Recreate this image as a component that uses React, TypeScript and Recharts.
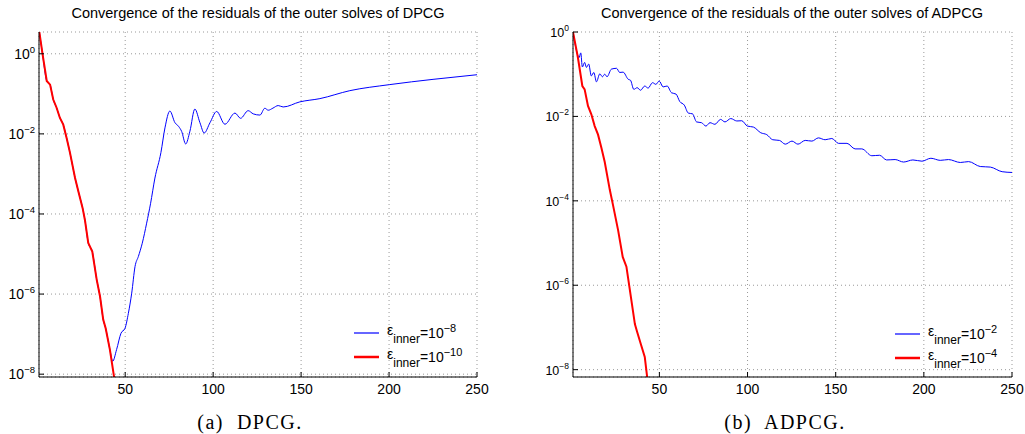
import React from "react"
import { LineChart, Line, XAxis, YAxis, CartesianGrid, Legend } from "recharts"

// DPCG, eps_inner = 1e-10 (red)
const dpcgRedX = [1, 3, 5.4, 7.3, 9.1, 11, 12.9, 14.8, 16.7, 18.6, 21.5, 23.5, 25.8, 27.1, 29, 31.3, 33.8, 35.7, 37.5, 38.9, 41.3, 43.8]
const dpcgRedY = [4, 1.0, 0.21, 0.17, 0.072, 0.045, 0.025, 0.017, 0.0079, 0.0034, 7.9e-4, 3.5e-4, 1.4e-4, 7.1e-5, 1.9e-5, 1.15e-5, 2.3e-6, 8.7e-7, 2.3e-7, 1.4e-7, 4.1e-8, 7.9e-9]

// DPCG, eps_inner = 1e-8 (blue), hidden under the red one until ~40
const dpcgBlueX = [1, 3, 5.4, 7.3, 9.1, 11, 12.9, 14.8, 16.7, 18.6, 21.5, 23.5, 25.8, 27.1, 29, 31.3, 33.8, 35.7, 37.5, 38.9, 41.3, 42.9, 45.1, 47.6, 49.9, 51.8, 53.7, 55.6, 57.5, 59.7, 62.2, 64.4, 66.9, 70.3, 72.6, 75.4, 78.3, 80.3, 82.1, 84.4, 86.8, 89.6, 92.5, 94.9, 98.2, 102, 106.7, 112.4, 115.6, 119.9, 122.8, 126.6, 129.4, 131.3, 134, 137, 139.8, 149.3, 160.7, 177.7, 200.4, 225, 250]
const dpcgBlueY = [4, 1.0, 0.21, 0.17, 0.072, 0.045, 0.025, 0.017, 0.0079, 0.0034, 7.9e-4, 3.5e-4, 1.4e-4, 7.1e-5, 1.9e-5, 1.15e-5, 2.3e-6, 8.7e-7, 2.3e-7, 1.4e-7, 4.1e-8, 2.1e-8, 4.1e-8, 1.05e-7, 1.4e-7, 3.3e-7, 1.05e-6, 4.9e-6, 8.7e-6, 1.86e-5, 5.9e-5, 1.8e-4, 7.9e-4, 3.4e-3, 0.0141, 0.0372, 0.019, 0.0155, 0.0115, 0.0056, 0.0117, 0.0417, 0.019, 0.0105, 0.019, 0.0363, 0.0174, 0.0331, 0.0245, 0.038, 0.0316, 0.0295, 0.0437, 0.039, 0.044, 0.051, 0.047, 0.063, 0.076, 0.12, 0.17, 0.23, 0.30]

// ADPCG, eps_inner = 1e-4 (red)
const adpcgRedX = [1, 3.8, 6.3, 7.6, 9.5, 11.4, 13.3, 15.2, 17.1, 19, 21.9, 23.7, 26.6, 29.2, 31.3, 33.2, 36.1, 37.4, 39.5, 41.7, 43.2]
const adpcgRedY = [1, 0.245, 0.0525, 0.0437, 0.0178, 0.0112, 0.0059, 0.0037, 0.0018, 8.3e-4, 1.8e-4, 7.9e-5, 2.0e-5, 4.7e-6, 2.75e-6, 8e-7, 1.2e-7, 7.8e-8, 4e-8, 2.0e-8, 6e-9]

// ADPCG, eps_inner = 1e-2 (blue)
const adpcgBlueX = [1, 3.3, 4.4, 5.4, 6.3, 7.6, 8.6, 9.9, 11.4, 12.8, 14.3, 16.2, 17.7, 19, 20.3, 22.8, 25.7, 27.5, 29.4, 32.3, 33.6, 35.5, 37.4, 39.3, 41.7, 43.6, 46.1, 48, 49.9, 52.1, 54.4, 56.9, 59.4, 61.6, 64.1, 66.4, 68.8, 71.1, 73.9, 76.4, 78.7, 81.5, 84.7, 87.2, 90.5, 93.9, 96.7, 99.9, 103.3, 107.5, 110.9, 114.3, 118.1, 121.4, 125.2, 128.6, 132.7, 136.5, 140.2, 144, 147.8, 151.6, 156.4, 161, 164.8, 170.5, 174.9, 178.9, 183.7, 188.5, 193.8, 198.9, 204, 209.3, 214, 220.7, 225.4, 232, 237.7, 244.4, 250]
const adpcgBlueY = [1, 0.32, 0.245, 0.32, 0.148, 0.19, 0.145, 0.174, 0.091, 0.11, 0.066, 0.102, 0.087, 0.1, 0.087, 0.132, 0.138, 0.11, 0.112, 0.076, 0.072, 0.0437, 0.048, 0.0417, 0.0525, 0.0468, 0.063, 0.0575, 0.069, 0.05, 0.0525, 0.0363, 0.0339, 0.0224, 0.0186, 0.012, 0.0115, 0.0074, 0.0071, 0.0059, 0.0071, 0.0065, 0.0085, 0.0074, 0.0089, 0.0078, 0.0079, 0.0059, 0.0056, 0.0041, 0.0037, 0.0028, 0.0027, 0.0022, 0.0026, 0.0022, 0.0027, 0.0026, 0.0031, 0.0028, 0.003, 0.0023, 0.0023, 0.0017, 0.0017, 0.00117, 0.0012, 9.3e-4, 9.5e-4, 8.3e-4, 9.3e-4, 8.7e-4, 0.00102, 9.1e-4, 9.5e-4, 8.1e-4, 8.5e-4, 6.5e-4, 6.3e-4, 4.9e-4, 4.7e-4]

const xTicks = [50, 100, 150, 200, 250]
const yTicks = [1e-8, 1e-6, 1e-4, 1e-2, 1]
const dpcgLegendExp = ["−8", "−10"]
const adpcgLegendExp = ["−2", "−4"]

const FONT = "'Liberation Sans', Arial, Helvetica, sans-serif"

const toRows = (xs: number[], ys: number[]) => xs.map((x, i) => ({ x, v: ys[i] }))

const BottomTick = (props: any) => {
  const { x, y, payload } = props
  const axisY = y - 4
  return (
    <g>
      <line x1={x} x2={x} y1={axisY} y2={axisY - 5} stroke="#000" />
      <text x={x} y={axisY + 17} textAnchor="middle" fontSize={14} fontFamily={FONT} fill="#000">
        {payload.value}
      </text>
    </g>
  )
}

const TopTick = (props: any) => {
  const { x, y } = props
  return <line x1={x} x2={x} y1={y} y2={y + 5} stroke="#000" />
}

const RightTick = (props: any) => {
  const { x, y } = props
  return <line x1={x} x2={x - 5} y1={y} y2={y} stroke="#000" />
}

const makeLeftTick = (fs: number) => (props: any) => {
  const { x, y, payload } = props
  const e = Math.round(Math.log10(payload.value))
  const exp = e < 0 ? "−" + -e : String(e)
  return (
    <g>
      <line x1={x + 4} x2={x + 9} y1={y} y2={y} stroke="#000" />
      <text x={x} y={y + 5} textAnchor="end" fontSize={fs} fontFamily={FONT} fill="#000">
        10
        <tspan dy={-6} fontSize={fs * 0.68}>
          {exp}
        </tspan>
      </text>
    </g>
  )
}

const makeLegend = (exps: string[]) => (props: any) => {
  const { payload } = props
  return (
    <div style={{ fontFamily: FONT, fontSize: 14, color: "#000" }}>
      {(payload || []).map((p: any, i: number) => (
        <div key={i} style={{ display: "flex", alignItems: "center", height: 24 }}>
          <svg width={25} height={4} style={{ display: "block" }}>
            <line x1={0} x2={25} y1={2} y2={2} stroke={p.color} strokeWidth={i === 0 ? 2 : 2.5} strokeOpacity={i === 0 ? 0.6 : 1} />
          </svg>
          <span style={{ marginLeft: 8, whiteSpace: "nowrap" }}>
            <span style={{ position: "relative", top: -3 }}>ε</span>
            <span style={{ fontSize: 12, position: "relative", top: 5 }}>inner</span>
            =10
            <span style={{ fontSize: 11, position: "relative", top: -6 }}>{exps[i]}</span>
          </span>
        </div>
      ))}
    </div>
  )
}

interface PanelProps {
  left: number
  width: number
  yAxisWidth: number
  rightMargin: number
  topMargin: number
  bottomMargin: number
  yDomain: [number, number]
  yFont: number
  blue: { x: number; v: number }[]
  red: { x: number; v: number }[]
  exps: string[]
  legendLeft: number
  legendTop: number
}

const Panel: React.FC<PanelProps> = (p) => (
  <div style={{ position: "absolute", left: p.left, top: 0 }}>
    <LineChart
      width={p.width}
      height={434}
      margin={{ top: p.topMargin, right: p.rightMargin, left: 0, bottom: p.bottomMargin }}
    >
      <CartesianGrid stroke="#999" strokeDasharray="1 3" />
      <XAxis
        xAxisId={0}
        dataKey="x"
        type="number"
        domain={[1, 250]}
        ticks={xTicks}
        allowDataOverflow
        height={20}
        tickSize={0}
        tickMargin={4}
        tickLine={false}
        axisLine={{ stroke: "#000" }}
        tick={BottomTick}
        interval={0}
      />
      <XAxis
        xAxisId="top"
        orientation="top"
        dataKey="x"
        type="number"
        domain={[1, 250]}
        ticks={xTicks}
        allowDataOverflow
        height={0}
        tickSize={0}
        tickMargin={0}
        tickLine={false}
        axisLine={{ stroke: "#000" }}
        tick={TopTick}
        interval={0}
      />
      <YAxis
        yAxisId={0}
        type="number"
        scale="log"
        domain={p.yDomain}
        ticks={yTicks}
        allowDataOverflow
        width={p.yAxisWidth}
        tickSize={0}
        tickMargin={4}
        tickLine={false}
        axisLine={{ stroke: "#000" }}
        tick={makeLeftTick(p.yFont)}
        interval={0}
      />
      <YAxis
        yAxisId="r"
        orientation="right"
        type="number"
        scale="log"
        domain={p.yDomain}
        ticks={yTicks}
        allowDataOverflow
        width={0}
        tickSize={0}
        tickMargin={0}
        tickLine={false}
        axisLine={{ stroke: "#000" }}
        tick={RightTick}
        interval={0}
      />
      <Legend
        layout="vertical"
        align="center"
        verticalAlign="middle"
        content={makeLegend(p.exps)}
        wrapperStyle={{ left: p.legendLeft, top: p.legendTop, width: "auto" }}
      />
      <Line
        data={p.blue}
        dataKey="v"
        type="monotone"
        stroke="#0000ff"
        strokeWidth={1}
        dot={false}
        isAnimationActive={false}
        name="blue"
      />
      <Line
        data={p.red}
        dataKey="v"
        type="linear"
        stroke="#ff0000"
        strokeWidth={2}
        dot={false}
        isAnimationActive={false}
        name="red"
      />
    </LineChart>
  </div>
)

const titleStyle: React.CSSProperties = {
  position: "absolute",
  top: 5,
  fontFamily: FONT,
  fontSize: 14.5,
  whiteSpace: "nowrap",
  transform: "translateX(-50%)",
  color: "#000",
}

const captionStyle: React.CSSProperties = {
  position: "absolute",
  top: 411,
  fontFamily: "'Liberation Serif', 'DejaVu Serif', serif",
  fontSize: 20,
  letterSpacing: 1.5,
  whiteSpace: "pre",
  transform: "translateX(-50%)",
  color: "#000",
}

export default function App() {
  return (
    <div style={{ position: "absolute", left: 0, top: 0, width: 1025, height: 434, background: "#fff" }}>
      <Panel
        left={0}
        width={500}
        yAxisWidth={39}
        rightMargin={23}
        topMargin={32}
        bottomMargin={37}
        yDomain={[8.5e-9, 3.5]}
        yFont={14}
        blue={toRows(dpcgBlueX, dpcgBlueY)}
        red={toRows(dpcgRedX, dpcgRedY)}
        exps={dpcgLegendExp}
        legendLeft={354}
        legendTop={321}
      />
      <Panel
        left={520}
        width={505}
        yAxisWidth={53}
        rightMargin={13}
        topMargin={32}
        bottomMargin={37}
        yDomain={[6.7e-9, 1]}
        yFont={12.5}
        blue={toRows(adpcgBlueX, adpcgBlueY)}
        red={toRows(adpcgRedX, adpcgRedY)}
        exps={adpcgLegendExp}
        legendLeft={375}
        legendTop={322}
      />
      <div style={{ ...titleStyle, left: 258 }}>Convergence of the residuals of the outer solves of DPCG</div>
      <div style={{ ...titleStyle, left: 792 }}>Convergence of the residuals of the outer solves of ADPCG</div>
      <div style={{ ...captionStyle, left: 250 }}>(a)  DPCG.</div>
      <div style={{ ...captionStyle, left: 785 }}>(b)  ADPCG.</div>
    </div>
  )
}
